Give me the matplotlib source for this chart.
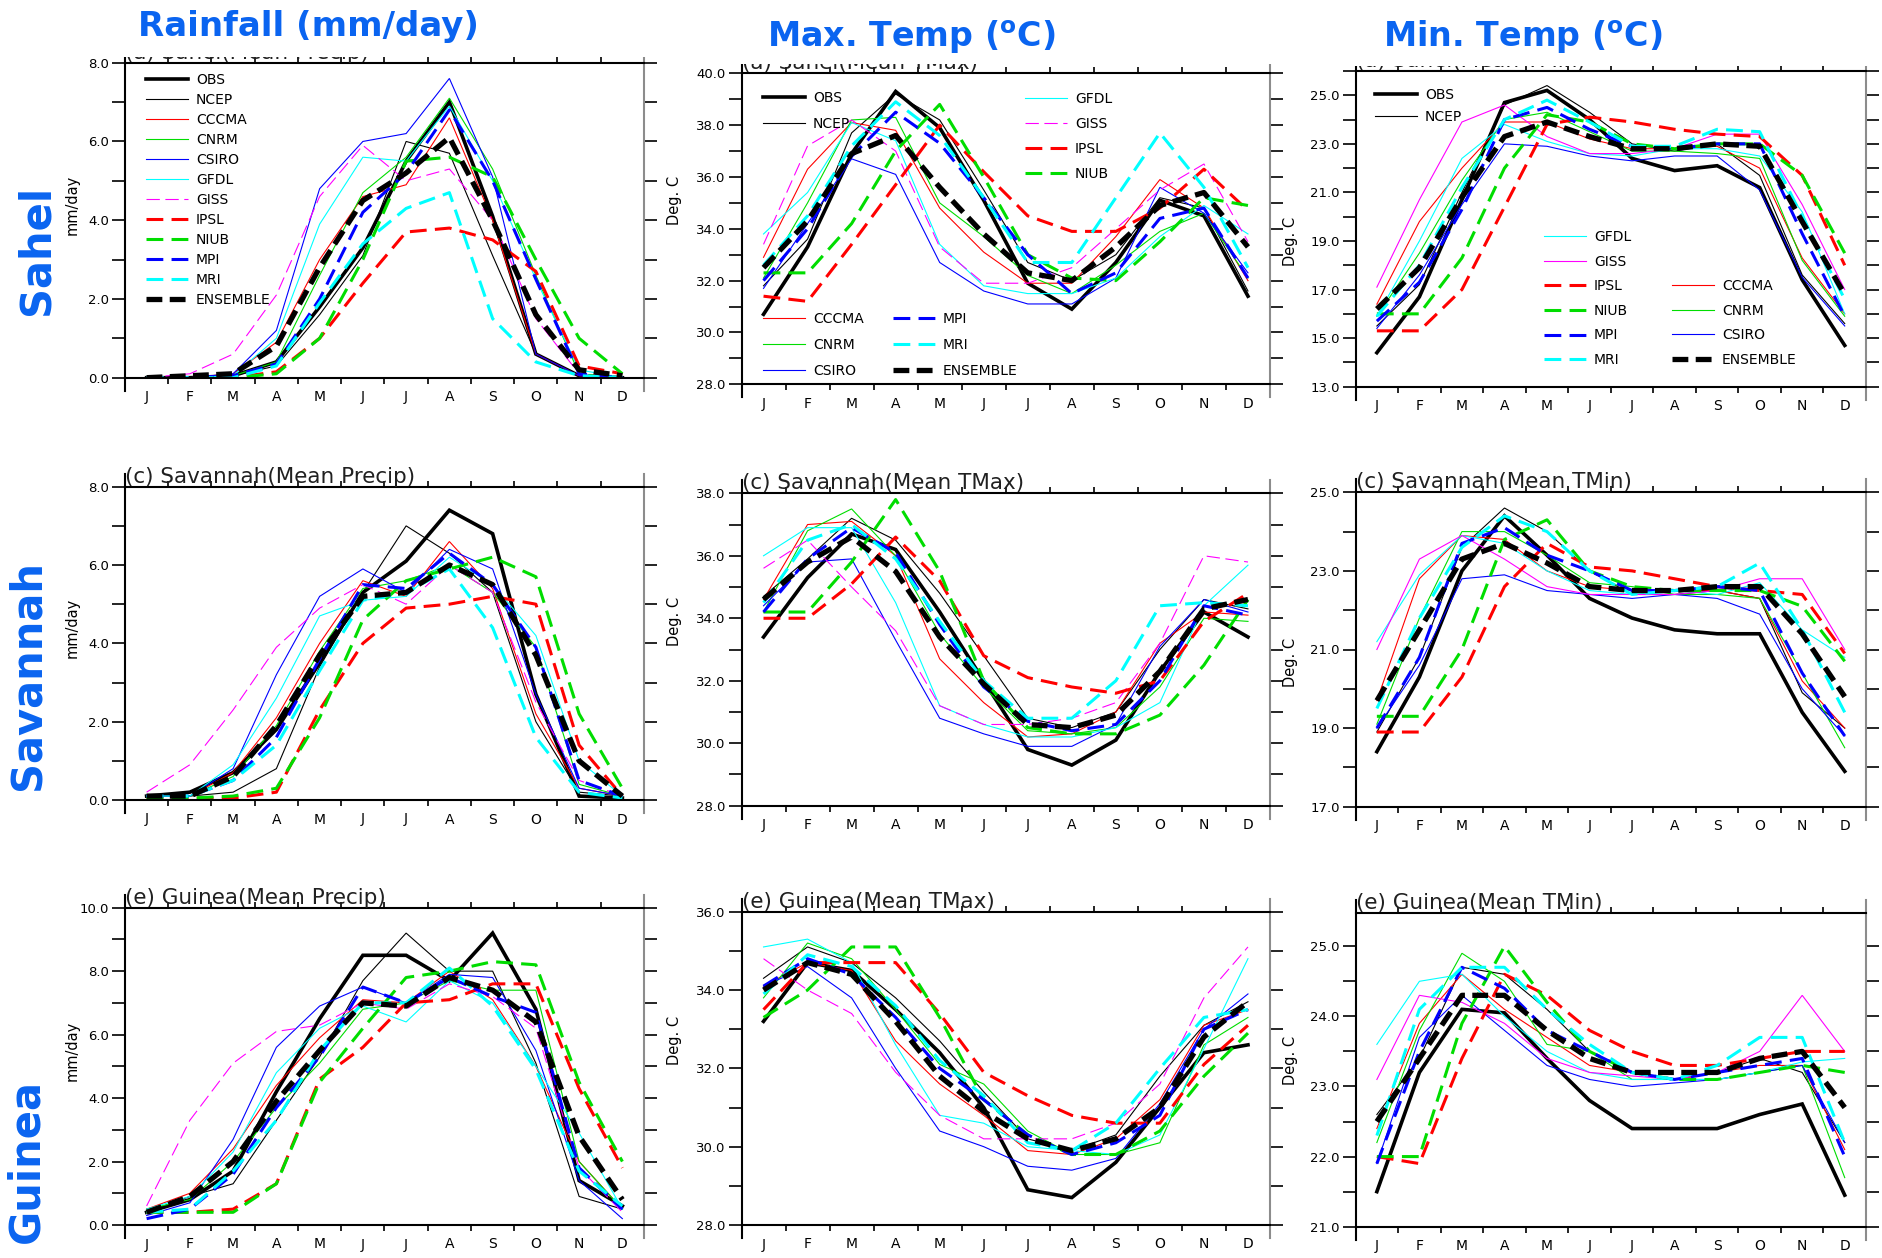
import numpy as np
import matplotlib
matplotlib.use("Agg")
import matplotlib.pyplot as plt
from matplotlib.legend import Legend
from matplotlib.patches import Rectangle
from matplotlib.ticker import FormatStrFormatter

months = ["J", "F", "M", "A", "M", "J", "J", "A", "S", "O", "N", "D"]
models = ["OBS", "NCEP", "CCCMA", "CNRM", "CSIRO", "GFDL", "GISS",
          "IPSL", "NIUB", "MPI", "MRI", "ENSEMBLE"]

# one row per entry of `models`, one column per month
sahel_precip = [
    [0.0, 0.0, 0.05, 0.4, 1.8, 3.3, 5.5, 7.0, 4.1, 0.6, 0.05, 0.0],
    [0.0, 0.0, 0.05, 0.3, 1.6, 3.1, 6.0, 5.7, 3.1, 0.6, 0.05, 0.0],
    [0.0, 0.0, 0.1, 0.9, 3.0, 4.6, 4.9, 6.6, 4.0, 0.6, 0.05, 0.0],
    [0.0, 0.0, 0.05, 0.4, 2.6, 4.7, 5.6, 7.1, 5.3, 2.6, 0.1, 0.0],
    [0.0, 0.0, 0.1, 1.2, 4.8, 6.0, 6.2, 7.6, 5.1, 0.6, 0.05, 0.0],
    [0.0, 0.0, 0.05, 1.0, 3.9, 5.6, 5.5, 6.9, 5.0, 2.5, 0.2, 0.0],
    [0.0, 0.1, 0.6, 2.1, 4.6, 5.9, 5.0, 5.3, 4.0, 1.5, 0.1, 0.0],
    [0.0, 0.0, 0.0, 0.15, 1.0, 2.4, 3.7, 3.8, 3.5, 2.7, 0.3, 0.1],
    [0.0, 0.0, 0.0, 0.1, 1.0, 3.0, 5.5, 5.6, 5.1, 3.0, 1.0, 0.1],
    [0.0, 0.0, 0.05, 0.35, 2.0, 4.2, 5.2, 6.8, 5.0, 2.5, 0.1, 0.0],
    [0.0, 0.0, 0.0, 0.3, 1.9, 3.4, 4.3, 4.7, 1.5, 0.4, 0.05, 0.0],
    [0.0, 0.05, 0.1, 0.8, 2.8, 4.5, 5.2, 6.1, 4.0, 1.6, 0.2, 0.05],
]
sahel_tmax = [
    [30.7, 33.3, 36.9, 39.3, 37.9, 35.1, 31.9, 30.9, 32.7, 35.1, 34.5, 31.4],
    [31.8, 33.6, 37.7, 39.2, 38.2, 35.5, 32.7, 32.0, 33.0, 35.2, 34.8, 31.6],
    [32.9, 36.3, 38.1, 37.8, 34.8, 33.1, 31.9, 31.9, 33.7, 35.9, 34.8, 32.0],
    [32.1, 35.0, 38.2, 38.3, 35.0, 33.7, 32.2, 31.5, 32.6, 33.9, 34.6, 32.1],
    [31.7, 34.2, 36.7, 36.1, 32.7, 31.6, 31.1, 31.1, 32.1, 35.6, 34.6, 32.3],
    [33.8, 35.4, 38.1, 37.4, 33.4, 31.8, 31.5, 31.5, 32.1, 33.7, 34.9, 33.8],
    [33.4, 37.2, 38.2, 37.0, 33.3, 31.9, 31.9, 32.5, 34.0, 35.5, 36.5, 33.5],
    [31.4, 31.2, 33.4, 35.7, 38.0, 36.2, 34.5, 33.9, 33.9, 34.8, 36.3, 34.7],
    [32.3, 32.3, 34.2, 37.0, 38.8, 36.0, 33.0, 32.1, 32.0, 33.5, 35.2, 34.9],
    [32.0, 34.0, 36.8, 38.5, 37.3, 35.2, 33.0, 31.5, 32.3, 34.4, 34.8, 32.1],
    [32.6, 34.5, 37.2, 38.9, 37.6, 35.2, 32.7, 32.7, 35.2, 37.7, 35.6, 32.5],
    [32.5, 34.3, 36.9, 37.6, 35.6, 33.8, 32.3, 32.0, 33.3, 34.9, 35.4, 33.3],
]
sahel_tmin = [
    [14.4, 16.7, 20.7, 24.7, 25.2, 24.0, 22.4, 21.9, 22.1, 21.2, 17.4, 14.7],
    [15.5, 17.2, 21.0, 24.6, 25.4, 24.3, 23.0, 22.7, 23.0, 21.7, 17.6, 15.6],
    [16.4, 19.8, 22.0, 23.9, 23.9, 23.2, 22.8, 22.8, 22.9, 22.0, 18.3, 16.0],
    [15.9, 18.5, 21.5, 24.0, 24.3, 23.5, 22.7, 22.7, 22.6, 22.4, 18.2, 15.9],
    [15.4, 17.6, 20.5, 23.0, 22.9, 22.5, 22.3, 22.5, 22.5, 21.1, 17.5, 15.5],
    [15.9, 19.0, 22.4, 23.8, 23.1, 22.6, 22.5, 22.8, 22.8, 22.5, 20.2, 16.0],
    [17.1, 20.7, 23.9, 24.6, 23.3, 22.6, 22.6, 22.8, 23.4, 23.4, 20.5, 17.0],
    [15.3, 15.3, 17.0, 20.4, 23.8, 24.1, 23.9, 23.6, 23.4, 23.3, 21.7, 18.0],
    [16.0, 16.0, 18.3, 22.0, 24.2, 23.9, 23.0, 22.8, 23.0, 23.0, 21.7, 18.5],
    [15.7, 17.3, 20.3, 24.0, 24.5, 23.6, 22.9, 22.8, 23.0, 23.0, 19.3, 15.9],
    [15.9, 18.0, 21.2, 24.0, 24.8, 23.9, 22.9, 22.9, 23.6, 23.5, 20.0, 16.6],
    [16.2, 17.9, 20.8, 23.3, 23.9, 23.3, 22.8, 22.8, 23.0, 22.9, 19.8, 16.8],
]
savannah_precip = [
    [0.1, 0.2, 0.7, 1.8, 3.5, 5.3, 6.1, 7.4, 6.8, 2.7, 0.1, 0.05],
    [0.1, 0.1, 0.2, 0.8, 3.4, 5.3, 7.0, 6.3, 5.3, 2.0, 0.2, 0.1],
    [0.1, 0.1, 0.7, 2.1, 4.0, 5.6, 5.2, 6.6, 5.4, 2.2, 0.3, 0.1],
    [0.1, 0.1, 0.6, 1.9, 3.8, 5.4, 5.6, 6.0, 5.3, 3.9, 0.4, 0.1],
    [0.1, 0.1, 0.8, 3.2, 5.2, 5.9, 5.3, 6.4, 5.9, 2.7, 0.3, 0.1],
    [0.1, 0.1, 0.9, 2.6, 4.7, 5.1, 5.2, 6.2, 5.5, 4.2, 1.0, 0.1],
    [0.2, 0.9, 2.3, 3.9, 4.9, 5.5, 5.0, 6.0, 5.3, 2.5, 0.5, 0.1],
    [0.05, 0.05, 0.05, 0.2, 2.3, 4.0, 4.9, 5.0, 5.2, 5.0, 1.4, 0.1],
    [0.05, 0.05, 0.1, 0.3, 2.1, 4.6, 5.6, 5.9, 6.2, 5.7, 2.2, 0.3],
    [0.1, 0.1, 0.5, 1.6, 3.6, 5.5, 5.4, 6.3, 5.5, 3.9, 0.5, 0.1],
    [0.1, 0.1, 0.5, 1.4, 3.3, 5.1, 5.3, 5.9, 4.4, 1.6, 0.2, 0.05],
    [0.1, 0.1, 0.6, 1.9, 3.7, 5.2, 5.3, 6.0, 5.5, 3.7, 1.0, 0.1],
]
savannah_tmax = [
    [33.4, 35.3, 36.7, 36.2, 34.2, 32.0, 29.8, 29.3, 30.1, 32.3, 34.2, 33.4],
    [34.7, 35.9, 37.2, 36.5, 34.8, 32.8, 30.8, 30.5, 31.0, 33.0, 34.6, 34.3],
    [34.6, 37.0, 37.1, 36.0, 32.7, 31.3, 30.2, 30.3, 31.0, 33.2, 34.2, 34.1],
    [34.2, 36.8, 37.5, 36.0, 33.5, 31.8, 30.4, 30.3, 30.5, 31.8, 34.0, 33.9],
    [34.4, 35.8, 35.9, 33.3, 30.8, 30.3, 29.9, 29.9, 30.6, 33.1, 34.6, 34.2],
    [36.0, 36.9, 36.9, 34.5, 31.2, 30.6, 30.2, 30.2, 30.5, 31.3, 34.4, 35.7],
    [35.6, 36.5, 35.0, 33.6, 31.2, 30.6, 30.6, 30.8, 31.3, 33.2, 36.0, 35.8],
    [34.0, 34.0, 35.1, 36.6, 35.2, 32.8, 32.1, 31.8, 31.6, 32.0, 33.9, 34.8],
    [34.2, 34.2, 35.8, 37.8, 35.5, 32.0, 30.5, 30.3, 30.3, 30.9, 32.5, 34.6],
    [34.2, 35.9, 36.9, 36.1, 33.8, 31.8, 30.7, 30.4, 30.6, 32.0, 34.4, 34.1],
    [34.5, 36.5, 37.0, 35.9, 33.9, 32.0, 30.8, 30.8, 32.0, 34.4, 34.5, 34.4],
    [34.6, 35.8, 36.6, 35.5, 33.4, 31.9, 30.6, 30.5, 30.9, 32.3, 34.3, 34.6],
]
savannah_tmin = [
    [18.4, 20.3, 23.0, 24.4, 23.4, 22.3, 21.8, 21.5, 21.4, 21.4, 19.4, 17.9],
    [18.9, 20.8, 23.6, 24.6, 24.0, 23.0, 22.4, 22.4, 22.5, 22.3, 19.9, 19.0],
    [19.7, 22.8, 23.9, 23.8, 23.0, 22.6, 22.5, 22.5, 22.5, 22.3, 20.2, 19.0],
    [19.1, 21.8, 24.0, 24.0, 23.4, 22.7, 22.6, 22.4, 22.4, 22.3, 20.4, 18.5],
    [19.0, 20.6, 22.8, 22.9, 22.5, 22.4, 22.3, 22.4, 22.3, 21.9, 20.0, 18.8],
    [21.2, 22.9, 23.9, 23.7, 23.0, 22.5, 22.4, 22.5, 22.4, 22.7, 21.5, 20.8],
    [21.0, 23.3, 23.9, 23.3, 22.6, 22.4, 22.4, 22.4, 22.5, 22.8, 22.8, 21.0],
    [18.9, 18.9, 20.3, 22.6, 23.7, 23.1, 23.0, 22.8, 22.6, 22.5, 22.4, 20.9],
    [19.3, 19.3, 21.0, 23.8, 24.3, 23.0, 22.6, 22.5, 22.5, 22.5, 22.1, 20.7],
    [19.0, 20.8, 23.7, 24.1, 23.4, 23.0, 22.5, 22.5, 22.6, 22.5, 20.4, 18.8],
    [19.5, 21.8, 23.6, 24.4, 24.0, 23.0, 22.4, 22.5, 22.6, 23.2, 21.5, 19.4],
    [19.7, 21.5, 23.3, 23.7, 23.2, 22.6, 22.5, 22.5, 22.6, 22.6, 21.4, 19.8],
]
guinea_precip = [
    [0.4, 0.8, 1.7, 4.2, 6.5, 8.5, 8.5, 7.7, 9.2, 6.8, 1.4, 0.6],
    [0.4, 0.9, 1.3, 3.3, 5.3, 7.7, 9.2, 8.0, 8.0, 5.1, 0.9, 0.5],
    [0.5, 1.0, 2.4, 4.4, 5.9, 7.1, 7.0, 8.0, 7.1, 5.0, 2.0, 0.5],
    [0.5, 0.8, 2.0, 3.7, 5.1, 6.8, 7.0, 7.7, 7.4, 7.4, 2.0, 0.5],
    [0.3, 0.7, 2.7, 5.6, 6.9, 7.5, 7.0, 7.9, 7.8, 5.5, 1.4, 0.2],
    [0.5, 0.9, 2.3, 4.8, 6.2, 6.9, 6.4, 7.7, 7.0, 5.0, 2.9, 0.5],
    [0.6, 3.3, 5.1, 6.1, 6.3, 7.0, 6.8, 7.6, 7.2, 6.2, 1.8, 0.4],
    [0.4, 0.4, 0.5, 1.3, 4.6, 5.6, 7.0, 7.1, 7.6, 7.6, 4.3, 1.8],
    [0.4, 0.4, 0.4, 1.3, 4.5, 6.2, 7.8, 8.0, 8.3, 8.2, 4.5, 2.0],
    [0.2, 0.5, 1.6, 3.7, 5.3, 7.5, 7.0, 7.8, 7.2, 6.7, 1.8, 0.5],
    [0.4, 0.5, 1.7, 3.3, 5.5, 7.0, 7.0, 8.1, 6.9, 4.9, 1.7, 0.6],
    [0.4, 0.9, 2.0, 3.9, 5.5, 7.0, 6.9, 7.8, 7.4, 6.4, 2.8, 0.8],
]
guinea_tmax = [
    [33.2, 34.7, 34.5, 33.5, 32.4, 31.0, 28.9, 28.7, 29.6, 31.0, 32.4, 32.6],
    [34.3, 35.1, 34.7, 33.8, 32.7, 31.4, 30.2, 29.9, 30.3, 31.8, 33.1, 33.7],
    [34.1, 34.7, 34.5, 32.7, 31.6, 30.8, 29.9, 29.8, 30.2, 31.2, 33.1, 33.5],
    [33.8, 35.2, 34.8, 33.5, 32.1, 31.6, 30.4, 29.8, 29.8, 30.1, 32.6, 33.3],
    [34.1, 34.6, 33.8, 32.0, 30.4, 30.0, 29.5, 29.4, 29.7, 31.1, 33.0, 33.9],
    [35.1, 35.3, 34.7, 32.6, 30.8, 30.6, 30.0, 29.9, 29.8, 30.3, 32.5, 34.8],
    [34.8, 34.0, 33.4, 31.9, 30.8, 30.2, 30.2, 30.2, 30.6, 31.6, 33.8, 35.1],
    [33.5, 34.7, 34.7, 34.7, 33.4, 31.9, 31.3, 30.8, 30.6, 30.6, 32.1, 33.1],
    [33.3, 34.0, 35.1, 35.1, 33.3, 31.2, 30.3, 29.8, 29.8, 30.4, 31.8, 32.9],
    [34.1, 34.8, 34.4, 33.3, 32.0, 31.2, 30.3, 29.8, 30.1, 30.8, 33.0, 33.5],
    [33.9, 34.9, 34.6, 33.6, 32.2, 31.3, 30.1, 29.9, 30.6, 32.0, 33.3, 33.5],
    [34.0, 34.7, 34.4, 33.2, 31.8, 30.9, 30.2, 29.9, 30.2, 31.0, 32.8, 33.7],
]
guinea_tmin = [
    [21.5, 23.2, 24.1, 24.05, 23.4, 22.8, 22.4, 22.4, 22.4, 22.6, 22.75, 21.45],
    [22.6, 23.4, 24.7, 24.6, 24.1, 23.5, 23.2, 23.1, 23.2, 23.4, 23.2, 22.2],
    [22.4, 23.9, 24.6, 24.1, 23.7, 23.3, 23.2, 23.1, 23.2, 23.3, 23.3, 22.1],
    [22.2, 23.8, 24.9, 24.5, 23.6, 23.5, 23.1, 23.1, 23.1, 23.2, 23.3, 21.7],
    [21.9, 23.7, 24.3, 23.8, 23.3, 23.1, 23.0, 23.05, 23.1, 23.2, 23.3, 22.2],
    [23.6, 24.5, 24.6, 24.0, 23.5, 23.2, 23.1, 23.1, 23.1, 23.2, 23.35, 23.4],
    [23.1, 24.3, 24.2, 23.9, 23.4, 23.2, 23.15, 23.1, 23.2, 23.5, 24.3, 23.5],
    [22.0, 21.9, 23.4, 24.6, 24.3, 23.8, 23.5, 23.3, 23.3, 23.4, 23.5, 23.5],
    [22.0, 22.0, 23.9, 25.0, 24.2, 23.5, 23.2, 23.1, 23.1, 23.2, 23.3, 23.2],
    [21.9, 23.5, 24.7, 24.4, 23.8, 23.5, 23.2, 23.1, 23.2, 23.3, 23.4, 22.0],
    [22.3, 24.1, 24.7, 24.7, 24.1, 23.6, 23.2, 23.1, 23.3, 23.7, 23.7, 22.2],
    [22.5, 23.4, 24.3, 24.3, 23.8, 23.4, 23.2, 23.2, 23.2, 23.4, 23.5, 22.7],
]

grid = [[sahel_precip, sahel_tmax, sahel_tmin],
        [savannah_precip, savannah_tmax, savannah_tmin],
        [guinea_precip, guinea_tmax, guinea_tmin]]
titles = [["(a) Sahel(Mean Precip)", "(a) Sahel(Mean TMax)", "(a) Sahel(Mean TMin)"],
          ["(c) Savannah(Mean Precip)", "(c) Savannah(Mean TMax)", "(c) Savannah(Mean TMin)"],
          ["(e) Guinea(Mean Precip)", "(e) Guinea(Mean TMax)", "(e) Guinea(Mean TMin)"]]
units = ["mm/day", "Deg. C", "Deg. C"]
# (ymin, ymax, major step, minor step)
yscales = [[(0, 8, 2, 1), (28, 40, 2, 1), (13, 26, 2, 1)],
           [(0, 8, 2, 1), (28, 38, 2, 1), (17, 25, 2, 1)],
           [(0, 10, 2, 1), (28, 36, 2, 1), (21, 25.47, 1, 0.5)]]

# line style per model: colour, width, dash pattern (None = solid)
styles = {
    "OBS":      ("black",   2.6, None),
    "NCEP":     ("black",   0.8, None),
    "CCCMA":    ("#ff0000", 0.8, None),
    "CNRM":     ("#00dd00", 0.8, None),
    "CSIRO":    ("#0000ff", 0.8, None),
    "GFDL":     ("#00ffff", 0.8, None),
    "GISS":     ("#ff00ff", 0.8, (12, 5)),
    "IPSL":     ("#ff0000", 2.2, (5.5, 2.7)),
    "NIUB":     ("#00dd00", 2.2, (5.5, 2.7)),
    "MPI":      ("#0000ff", 2.2, (5.5, 2.7)),
    "MRI":      ("#00ffff", 2.2, (5.5, 2.7)),
    "ENSEMBLE": ("black",   3.8, (3.0, 1.4)),
}

W, H = 1883, 1258
blue = "#0a64f0"


def fx(px):
    return px / W


def fy(py):
    return 1 - py / H


# axes frames in pixels: left, top, right, bottom
boxes = [[(125, 62.7, 644, 377.7), (741.5, 73.3, 1270, 384.3), (1355.6, 71, 1866, 386.7)],
         [(125, 486.7, 644, 800), (741.5, 493.3, 1270, 805.7), (1355.6, 492.3, 1866, 806.7)],
         [(125, 907.7, 644, 1225), (741.5, 911.7, 1270, 1225), (1355.6, 913.3, 1866, 1226.7)]]
ylabel_y = [[0.55, 0.59, 0.46], [0.55, 0.59, 0.46], [0.55, 0.59, 0.53]]
ylabel_x_px = [45, 60, 58]

fig = plt.figure(figsize=(W / 100, H / 100), dpi=100)
x = np.arange(12)
axes = [[None] * 3 for _ in range(3)]
handles = [[None] * 3 for _ in range(3)]

for r in range(3):
    for c in range(3):
        left, top, right, bottom = boxes[r][c]
        ax = fig.add_axes([fx(left), fy(bottom), (right - left) / W, (bottom - top) / H])
        axes[r][c] = ax
        lines = {}
        for name, vals in zip(models, grid[r][c]):
            color, lw, dash = styles[name]
            if name == "GISS" and c == 2:
                dash = None
            ln, = ax.plot(x, vals, color=color, lw=lw, solid_joinstyle="miter")
            if dash is not None:
                ln.set_dashes(dash)
            lines[name] = ln
        handles[r][c] = lines

        lo, hi, major, minor = yscales[r][c]
        ax.set_xlim(-0.5, 11.5)
        ax.set_ylim(lo, hi)
        ax.set_xticks(x)
        ax.set_xticklabels(months)
        ax.set_xticks(x[:-1] + 0.5, minor=True)
        ax.tick_params(axis="x", which="major", length=0, pad=9, labelsize=10)
        ax.tick_params(axis="x", which="minor", direction="out", length=4,
                       width=1.2, top=True, bottom=True)
        ax.set_yticks(np.arange(lo, hi + 1e-6, major))
        ax.set_yticks(np.arange(lo, hi + 1e-6, minor), minor=True)
        ax.yaxis.set_major_formatter(FormatStrFormatter("%.1f"))
        ax.tick_params(axis="y", which="both", direction="out", length=9.5,
                       width=1.2, left=True, right=True, labelsize=9.5, pad=2)

        ext = 13 * (hi - lo) / (bottom - top)
        for side in ("left", "right"):
            ax.spines[side].set_bounds(lo - ext, hi + ext)
        for sp in ax.spines.values():
            sp.set_linewidth(1.5)
        ax.spines["right"].set_color("#8c8c8c")

        ax.set_title(titles[r][c], loc="left", fontsize=15.5, pad=3, color="#202020")
        ax.set_ylabel(units[c], fontsize=10.5)
        ax.yaxis.set_label_coords(-ylabel_x_px[c] / (right - left), ylabel_y[r][c])


def add_legend(ax, lines, names, px, py, gap):
    font_px = 10 * 100 / 72
    leg = Legend(ax, [lines[n] for n in names], names, loc="upper left",
                 bbox_to_anchor=(fx(px), fy(py)), bbox_transform=fig.transFigure,
                 frameon=False, fontsize=10, borderpad=0, borderaxespad=0,
                 handlelength=3.0, handletextpad=0.6,
                 labelspacing=(gap - 14.0) / font_px)
    ax.add_artist(leg)


add_legend(axes[0][0], handles[0][0], models, 146, 73, 20)

add_legend(axes[0][1], handles[0][1], ["OBS", "NCEP"], 763, 91, 26)
add_legend(axes[0][1], handles[0][1], ["GFDL", "GISS", "IPSL", "NIUB"], 1025, 92, 25)
add_legend(axes[0][1], handles[0][1], ["CCCMA", "CNRM", "CSIRO"], 763, 312, 26)
add_legend(axes[0][1], handles[0][1], ["MPI", "MRI", "ENSEMBLE"], 893, 312, 26)

add_legend(axes[0][2], handles[0][2], ["OBS", "NCEP"], 1375, 88, 22)
add_legend(axes[0][2], handles[0][2], ["GFDL", "GISS", "IPSL", "NIUB", "MPI", "MRI"],
           1544, 230, 24.6)
add_legend(axes[0][2], handles[0][2], ["CCCMA", "CNRM", "CSIRO", "ENSEMBLE"],
           1672, 279, 24.6)

# white banner behind the column headings (hides most of the top-row titles)
for x0, x1, depth in [(0, 700, 57), (700, 1310, 64), (1310, W, 66)]:
    fig.add_artist(Rectangle((fx(x0), fy(depth)), (x1 - x0) / W, depth / H,
                             transform=fig.transFigure, facecolor="white",
                             edgecolor="none", zorder=5))

head_kw = dict(ha="center", va="baseline", fontsize=24, fontweight="bold",
               color=blue, zorder=6)
fig.text(fx(308), fy(36), "Rainfall (mm/day)", fontsize=24.5,
         **{k: v for k, v in head_kw.items() if k != "fontsize"})
fig.text(fx(911), fy(47), r"Max. Temp ($^{\mathbf{o}}$C)", **head_kw)
fig.text(fx(1523), fy(47), r"Min. Temp ($^{\mathbf{o}}$C)", **head_kw)

row_kw = dict(rotation=90, ha="center", va="center", fontsize=30,
              fontweight="bold", color=blue)
fig.text(fx(36), fy(250), "Sahel", **row_kw)
fig.text(fx(28), fy(675), "Savannah", **row_kw)
fig.text(fx(26), fy(1161), "Guinea", **row_kw)

fig.savefig("out.png", dpi=100)
